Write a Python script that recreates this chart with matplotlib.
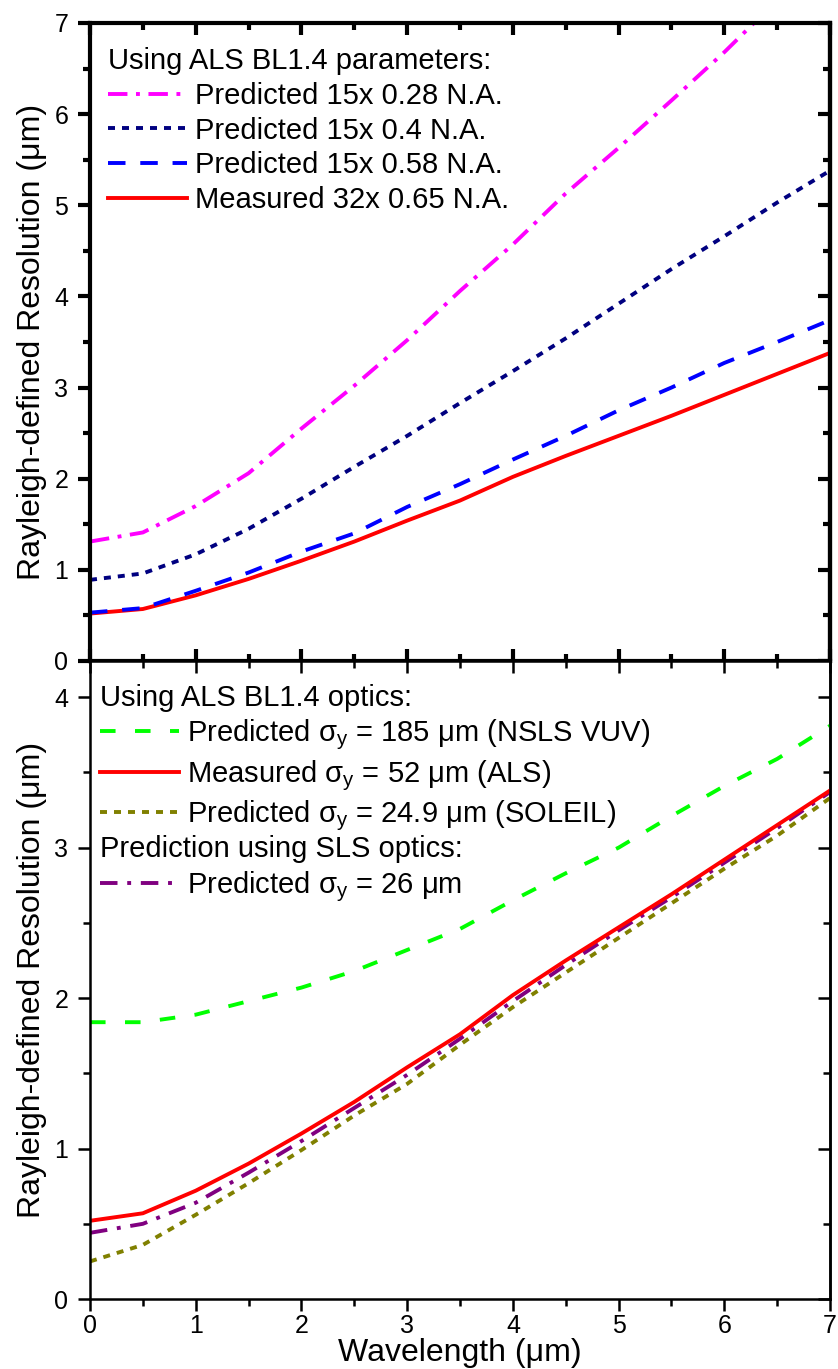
import numpy as np
import matplotlib
matplotlib.use('Agg')
from matplotlib import pyplot as plt
from matplotlib.ticker import MultipleLocator

plt.rcParams['font.family'] = ['Liberation Sans', 'DejaVu Sans']
plt.rcParams['mathtext.fontset'] = 'custom'
plt.rcParams['mathtext.rm'] = 'Liberation Sans'
plt.rcParams['mathtext.it'] = 'Liberation Sans:italic'

# wavelength grid (um)
wavelength = [0.0, 0.5, 1.0, 1.5, 2.0, 2.5, 3.0, 3.5, 4.0, 4.5, 5.0, 5.5, 6.0, 6.5, 7.0]

# measured curve, same in both panels
measured = [0.52, 0.57, 0.72, 0.90, 1.10, 1.31, 1.54, 1.76, 2.02, 2.25, 2.47, 2.69, 2.92, 3.15, 3.38]

# top panel: BL1.4 parameters (0.28 N.A. runs off the top after ~6.3 um)
na028 = [1.31, 1.41, 1.70, 2.06, 2.55, 3.02, 3.52, 4.06, 4.57, 5.13, 5.63, 6.15, 6.68, 7.25]
na04 = [0.89, 0.96, 1.17, 1.45, 1.78, 2.13, 2.47, 2.83, 3.18, 3.54, 3.92, 4.30, 4.66, 5.03, 5.38]
na058 = [0.53, 0.58, 0.77, 0.97, 1.20, 1.40, 1.69, 1.94, 2.21, 2.47, 2.75, 3.00, 3.27, 3.50, 3.74]

# bottom panel: source size
nsls = [1.84, 1.84, 1.89, 1.98, 2.07, 2.18, 2.32, 2.46, 2.65, 2.83, 3.00, 3.21, 3.41, 3.59, 3.81]
soleil = [0.25, 0.36, 0.56, 0.77, 0.99, 1.22, 1.43, 1.69, 1.94, 2.17, 2.40, 2.63, 2.86, 3.08, 3.33]
sls = [0.44, 0.50, 0.64, 0.84, 1.05, 1.27, 1.49, 1.73, 1.98, 2.22, 2.45, 2.67, 2.90, 3.13, 3.37]

ylabel = 'Rayleigh-defined Resolution (\u03bcm)'
lw = 2.8

fig = plt.figure(figsize=(8.38, 13.69), dpi=100)
ax1 = fig.add_axes([0.1074, 0.5172, 0.8831, 0.4660])
ax2 = fig.add_axes([0.1074, 0.0511, 0.8831, 0.4660])

# ---- top panel
l_red, = ax1.plot(wavelength, measured, color='#ff0000', lw=lw, label='Measured 32x 0.65 N.A.')
l_blue, = ax1.plot(wavelength, na058, color='#0000ff', lw=lw, dashes=(4.5, 3.8), label='Predicted 15x 0.58 N.A.')
l_navy, = ax1.plot(wavelength, na04, color='#000080', lw=lw, dashes=(1.8, 1.8), label='Predicted 15x 0.4 N.A.')
l_mag, = ax1.plot(wavelength[:len(na028)], na028, color='#ff00ff', lw=lw, dashes=(5, 2.2, 1, 2.2),
                  label='Predicted 15x 0.28 N.A.')

ax1.set_xlim(0, 7)
ax1.set_ylim(0, 7)
ax1.set_ylabel(ylabel, fontsize=23, labelpad=5)

ax1.legend(handles=[l_mag, l_navy, l_blue, l_red], title='Using ALS BL1.4 parameters:',
           loc='upper left', bbox_to_anchor=(0.024, 0.962), borderaxespad=0, borderpad=0,
           frameon=False, fontsize=21, title_fontsize=21, alignment='left',
           handlelength=2.7, handletextpad=0.3, labelspacing=0.23)

# ---- bottom panel
l_g, = ax2.plot(wavelength, nsls, color='#00ff00', lw=lw, dashes=(4, 5),
                label='Predicted \u03c3$_\\mathrm{y}$ = 185 \u03bcm (NSLS VUV)')
l_o, = ax2.plot(wavelength, soleil, color='#808000', lw=lw, dashes=(1.8, 1.8),
                label='Predicted \u03c3$_\\mathrm{y}$ = 24.9 \u03bcm (SOLEIL)')
l_p, = ax2.plot(wavelength, sls, color='#800080', lw=lw, dashes=(4.5, 2.5, 1, 2.5),
                label='Predicted \u03c3$_\\mathrm{y}$ = 26 \u03bcm')
l_r, = ax2.plot(wavelength, measured, color='#ff0000', lw=lw,
                label='Measured \u03c3$_\\mathrm{y}$ = 52 \u03bcm (ALS)')

ax2.set_xlim(0, 7)
ax2.set_ylim(0, 4.24)
ax2.set_ylabel(ylabel, fontsize=23, labelpad=5)
ax2.set_xlabel('Wavelength (\u03bcm)', fontsize=23, labelpad=0)

leg_opts = dict(loc='upper left', borderaxespad=0, borderpad=0, frameon=False, fontsize=21,
                title_fontsize=21, alignment='left', handlelength=2.7, handletextpad=0.3,
                labelspacing=0.2)
leg2 = ax2.legend(handles=[l_g, l_r, l_o], title='Using ALS BL1.4 optics:',
                  bbox_to_anchor=(0.0135, 0.964), **leg_opts)
ax2.add_artist(leg2)
ax2.legend(handles=[l_p], title='Prediction using SLS optics:',
           bbox_to_anchor=(0.0135, 0.727), **leg_opts)

# ---- axes styling: left ticks out, right ticks in
for ax, spw in [(ax1, 3.0), (ax2, 1.8)]:
    for s in ax.spines.values():
        s.set_linewidth(spw)
    ax.xaxis.set_major_locator(MultipleLocator(1))
    ax.xaxis.set_minor_locator(MultipleLocator(0.5))
    ax.yaxis.set_major_locator(MultipleLocator(1))
    ax.yaxis.set_minor_locator(MultipleLocator(0.5))
    ax.tick_params(axis='y', which='both', left=True, right=False, direction='out',
                   width=spw, labelsize=18, pad=7)
    ax.tick_params(axis='y', which='major', length=8.6)
    ax.tick_params(axis='y', which='minor', length=5)
    sec = ax.secondary_yaxis('right')
    sec.yaxis.set_major_locator(MultipleLocator(1))
    sec.yaxis.set_minor_locator(MultipleLocator(0.5))
    sec.tick_params(axis='y', which='both', direction='in', width=spw, labelright=False)
    sec.tick_params(axis='y', which='major', length=8.6)
    sec.tick_params(axis='y', which='minor', length=5)
    sec.spines['right'].set_linewidth(spw)

ax1.tick_params(axis='x', which='both', top=True, bottom=True, direction='in', width=3.0,
                labelbottom=False)
ax1.tick_params(axis='x', which='major', length=8.6)
ax1.tick_params(axis='x', which='minor', length=5)

ax2.tick_params(axis='x', which='both', bottom=True, top=False, direction='out', width=1.8,
                labelsize=18, pad=2)
ax2.tick_params(axis='x', which='major', length=8.6)
ax2.tick_params(axis='x', which='minor', length=5)
sec = ax2.secondary_xaxis('top')
sec.xaxis.set_major_locator(MultipleLocator(1))
sec.xaxis.set_minor_locator(MultipleLocator(0.5))
sec.tick_params(axis='x', which='both', direction='in', width=1.8, labeltop=False)
sec.tick_params(axis='x', which='major', length=8.6)
sec.tick_params(axis='x', which='minor', length=5)

plt.savefig('out.png', dpi=100)
